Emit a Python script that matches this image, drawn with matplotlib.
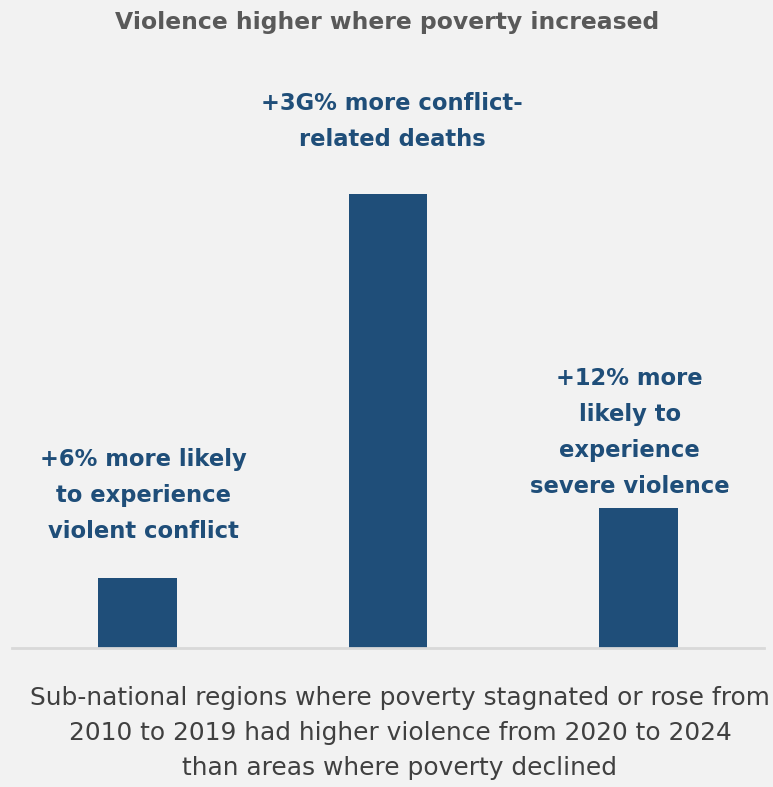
import matplotlib.pyplot as plt

# valores
categorias = ["violent conflict", "conflict-related deaths", "severe violence"]
valores = [6, 39, 12]
rotulos = [
    "+6% more likely\nto experience\nviolent conflict",
    "+3G% more conflict-\nrelated deaths",
    "+12% more\nlikely to\nexperience\nsevere violence",
]

titulo = "Violence higher where poverty increased"
nota = ("Sub-national regions where poverty stagnated or rose from\n"
        "2010 to 2019 had higher violence from 2020 to 2024\n"
        "than areas where poverty declined")

azul = "#1F4E79"
fundo = "#F2F2F2"

plt.rcParams['font.family'] = ['DejaVu Sans']

fig = plt.figure(figsize=(7.73, 7.87), dpi=100, facecolor=fundo)
# eixo: base em y=648px, topo em 60px
ax = fig.add_axes([12 / 773, 1 - 648 / 787, 752 / 773, 588 / 787])
ax.set_facecolor(fundo)

x = list(range(len(categorias)))
ax.bar(x, valores, width=0.315, color=azul, zorder=2)
ax.set_xlim(-0.5, 2.5)
ax.set_ylim(0, 39 * 588 / 454)

for s in ["top", "right", "left"]:
    ax.spines[s].set_visible(False)
ax.spines["bottom"].set_color("#D9D9D9")
ax.spines["bottom"].set_linewidth(2)
ax.set_xticks([])
ax.set_yticks([])

# deslocamentos dos rótulos (pixels) acima de cada barra
desloc_x = [6, 4, -9]
desloc_y = [35, 43, 10]
for xi, v, txt, dx, dy in zip(x, valores, rotulos, desloc_x, desloc_y):
    ax.annotate(txt, (xi, v), xytext=(dx * 0.72, dy * 0.72), textcoords="offset points",
                ha="center", va="bottom", fontsize=16.3, fontweight="bold",
                color=azul, linespacing=1.72, annotation_clip=False)

fig.text(387 / 773, 1 - 22 / 787, titulo, ha="center", va="center",
         fontsize=16.9, fontweight="bold", color="#595959")
fig.text(400 / 773, 1 - 733 / 787, nota, ha="center", va="center",
         fontsize=17.9, color="#404040", linespacing=1.58)

fig.savefig("out.png", dpi=100, facecolor=fundo)
